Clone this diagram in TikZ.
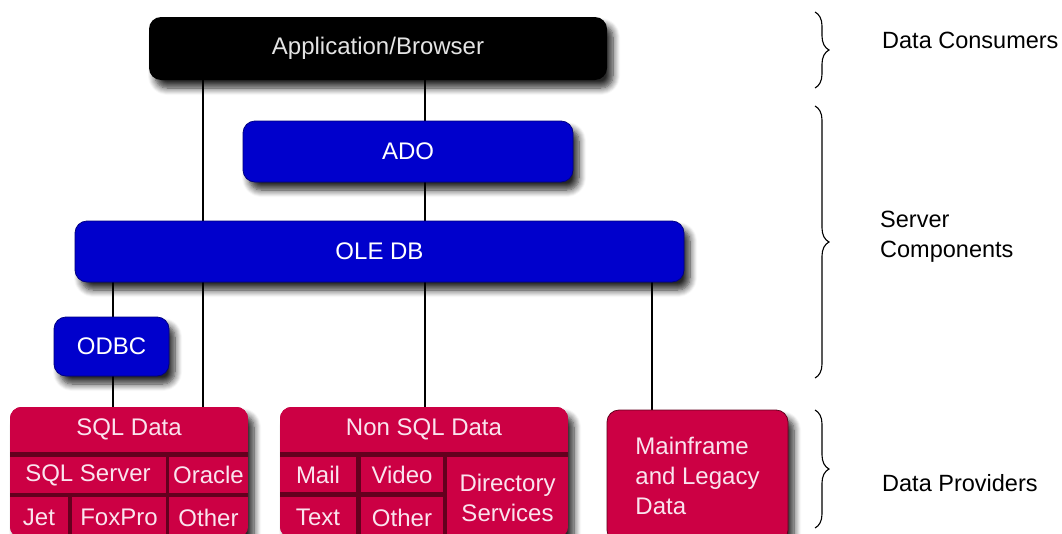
\documentclass[tikz,border=0pt]{standalone}
\usepackage{fontspec}
\setmainfont{Liberation Sans}
\usetikzlibrary{shadows.blur, decorations.pathreplacing, backgrounds}

\definecolor{oleblue}{RGB}{0,0,204}
\definecolor{oleblueedge}{RGB}{0,0,130}
\definecolor{datared}{RGB}{204,0,68}
\definecolor{datareddark}{RGB}{100,0,30}
\definecolor{labelpink}{RGB}{250,228,238}
\definecolor{applabel}{RGB}{228,228,228}

\begin{document}
\begin{tikzpicture}[x=1pt, y=-1pt,
  lbl/.style={font=\fontsize{24}{30}\selectfont},
  softshadow/.style={blur shadow={shadow xshift=6pt, shadow yshift=-8pt,
      shadow blur radius=7pt, shadow blur steps=8, shadow opacity=85}},
  appbox/.style={rounded corners=12pt, fill=black, text=applabel, lbl,
      softshadow, inner sep=0pt},
  bluebox/.style={rounded corners=12pt, fill=oleblue, draw=oleblueedge,
      line width=0.8pt, text=white, lbl, softshadow, inner sep=0pt},
  groupbox/.style={rounded corners=12pt, fill=datareddark, softshadow,
      inner sep=0pt},
  cell/.style={fill=datared, text=labelpink, lbl, inner sep=0pt,
      align=center},
  redbox/.style={rounded corners=12pt, fill=datared, draw=datareddark,
      line width=0.8pt, text=labelpink, lbl, softshadow, inner sep=0pt,
      align=left},
  link/.style={line width=1.8pt, black},
  bracket/.style={decorate, decoration={brace, amplitude=14pt},
      line width=1.1pt},
  side/.style={font=\fontsize{23.5}{30}\selectfont, anchor=west,
      align=left, inner sep=0pt}
]
\useasboundingbox (0,0) rectangle (1062,533);

% consumer and server layers
\node[appbox, minimum width=458, minimum height=63] (app) at (378,48.5)
  {Application/Browser};
\node[bluebox, minimum width=330, minimum height=61] (ado) at (408,151.5)
  {ADO};
\node[bluebox, minimum width=609, minimum height=61] (oledb) at (379.5,251.5)
  {OLE DB};
\node[bluebox, minimum width=115, minimum height=59] (odbc) at (111.5,346.5)
  {ODBC};

% SQL data provider group
\node[groupbox, minimum width=238, minimum height=131] (sql) at (129,472.5) {};
\begin{scope}
  \clip[rounded corners=12pt] (sql.north west) rectangle (sql.south east);
  \node[cell, minimum width=238, minimum height=45] (sqlhead) at (129,429.5) {SQL Data};
  \node[cell, minimum width=156, minimum height=36] (sqlsrv) at (88,475) {SQL Server};
  \node[cell, minimum width=79, minimum height=36] (oracle) at (208.5,475) {Oracle};
  \node[cell, minimum width=58, minimum height=41] (jet) at (39,517.5) {Jet};
  \node[cell, minimum width=94, minimum height=41] (foxpro) at (119,517.5) {FoxPro};
  \node[cell, minimum width=79, minimum height=41] (sqlother) at (208.5,517.5) {Other};
\end{scope}

% non-SQL data provider group
\node[groupbox, minimum width=288, minimum height=131] (nonsql) at (424,472.5) {};
\begin{scope}
  \clip[rounded corners=12pt] (nonsql.north west) rectangle (nonsql.south east);
  \node[cell, minimum width=288, minimum height=45] (nshead) at (424,429.5) {Non SQL Data};
  \node[cell, minimum width=76, minimum height=35] (mail) at (318,474.5) {Mail};
  \node[cell, minimum width=82, minimum height=35] (video) at (402,474.5) {Video};
  \node[cell, minimum width=76, minimum height=41] (textcell) at (318,517.5) {Text};
  \node[cell, minimum width=82, minimum height=41] (nsother) at (402,517.5) {Other};
  \node[cell, minimum width=121, minimum height=81] (dirsvc) at (507.5,497.5) {Directory\\Services};
\end{scope}

% mainframe provider
\node[redbox, minimum width=181, minimum height=132] (mainframe) at (697.5,476)
  {Mainframe\\and Legacy\\Data};

% connectors, behind the boxes
\coordinate (xa) at (203,0);
\coordinate (xb) at (425,0);
\coordinate (xc) at (113,0);
\coordinate (xd) at (652,0);
\begin{scope}[on background layer]
  \draw[link] (app.south -| xa) -- (sql.north -| xa);
  \draw[link] (app.south -| xb) -- (ado.north -| xb);
  \draw[link] (ado.south -| xb) -- (oledb.north -| xb);
  \draw[link] (oledb.south -| xc) -- (odbc.north -| xc);
  \draw[link] (odbc.south -| xc) -- (sql.north -| xc);
  \draw[link] (oledb.south -| xb) -- (nonsql.north -| xb);
  \draw[link] (oledb.south -| xd) -- (mainframe.north -| xd);
\end{scope}

% layer braces and their captions
\coordinate (c1t) at (815,12);
\coordinate (c1b) at (815,88);
\coordinate (c2t) at (815,106);
\coordinate (c2b) at (815,378);
\coordinate (c3t) at (815,410);
\coordinate (c3b) at (815,528);
\draw[bracket] (c1t) -- (c1b);
\draw[bracket] (c2t) -- (c2b);
\draw[bracket] (c3t) -- (c3b);

\node[side] (consumers) at (882,40) {Data Consumers};
\node[side] (servers) at (880,237) {Server\\Components};
\node[side] (providers) at (882,483) {Data Providers};
\end{tikzpicture}
\end{document}
